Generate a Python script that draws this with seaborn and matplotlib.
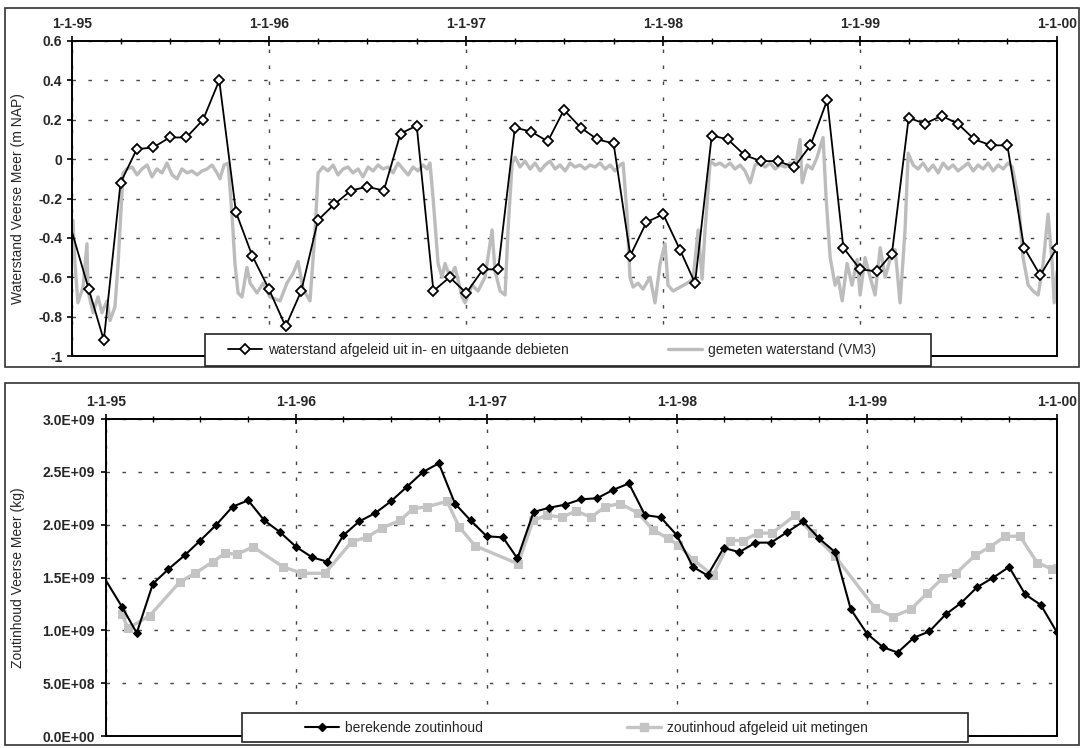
import numpy as np
import pandas as pd
import matplotlib
matplotlib.use("Agg")
import matplotlib.pyplot as plt
import matplotlib.dates as mdates
from matplotlib.patches import Rectangle
from matplotlib.lines import Line2D
import seaborn as sns

# ---- values ----
year_dates = ["1995-01-01", "1996-01-01", "1997-01-01", "1998-01-01", "1999-01-01", "2000-01-01"]
year_labels = ["1-1-95", "1-1-96", "1-1-97", "1-1-98", "1-1-99", "1-1-00"]

level_ticks = [0.6, 0.4, 0.2, 0, -0.2, -0.4, -0.6, -0.8, -1]
level_tick_labels = ["0.6", "0.4", "0.2", "0", "-0.2", "-0.4", "-0.6", "-0.8", "-1"]
salt_ticks = [3.0e9, 2.5e9, 2.0e9, 1.5e9, 1.0e9, 0.5e9, 0]
salt_tick_labels = ["3.0E+09", "2.5E+09", "2.0E+09", "1.5E+09", "1.0E+09", "5.0E+08", "0.0E+00"]

# waterstand afgeleid uit in- en uitgaande debieten (m NAP), monthly 1-1-95 .. 1-1-00
level_calc = [-0.37, -0.66, -0.92, -0.12, 0.05, 0.06, 0.11, 0.11, 0.20, 0.40,
              -0.27, -0.49, -0.66, -0.85, -0.67, -0.31, -0.23, -0.16, -0.14, -0.16,
              0.13, 0.17, -0.67, -0.60, -0.68, -0.56, -0.56, 0.16, 0.14, 0.09,
              0.25, 0.16, 0.10, 0.08, -0.49, -0.32, -0.28, -0.46, -0.63, 0.12,
              0.10, 0.02, -0.01, -0.01, -0.04, 0.07, 0.30, -0.45, -0.56, -0.57,
              -0.48, 0.21, 0.18, 0.22, 0.18, 0.10, 0.07, 0.07, -0.45, -0.59,
              -0.45]

# gemeten waterstand (VM3): time in years after 1-1-95, level in m NAP
level_meas_t = [0.005, 0.015, 0.030, 0.056, 0.076, 0.081, 0.107, 0.132, 0.152, 0.178,
                0.193, 0.218, 0.234, 0.259, 0.279, 0.305, 0.330, 0.355, 0.381, 0.406,
                0.431, 0.457, 0.482, 0.508, 0.533, 0.558, 0.584, 0.609, 0.635, 0.660,
                0.685, 0.711, 0.736, 0.751, 0.772, 0.792, 0.812, 0.827, 0.843, 0.863,
                0.888, 0.904, 0.939, 0.970, 1.005, 1.056, 1.091, 1.122, 1.147, 1.173,
                1.208, 1.234, 1.249, 1.274, 1.299, 1.325, 1.350, 1.376, 1.401, 1.426,
                1.452, 1.477, 1.503, 1.528, 1.553, 1.579, 1.604, 1.629, 1.655, 1.680,
                1.706, 1.731, 1.756, 1.782, 1.802, 1.817, 1.832, 1.858, 1.878, 1.893,
                1.919, 1.944, 1.980, 1.995, 2.030, 2.061, 2.096, 2.132, 2.147, 2.173,
                2.198, 2.213, 2.234, 2.249, 2.274, 2.299, 2.325, 2.350, 2.376, 2.401,
                2.426, 2.452, 2.477, 2.503, 2.528, 2.553, 2.579, 2.604, 2.629, 2.655,
                2.680, 2.706, 2.731, 2.756, 2.782, 2.797, 2.817, 2.832, 2.848, 2.873,
                2.898, 2.934, 2.959, 2.985, 3.010, 3.025, 3.051, 3.086, 3.122, 3.152,
                3.178, 3.198, 3.213, 3.239, 3.264, 3.289, 3.315, 3.340, 3.365, 3.391,
                3.416, 3.442, 3.467, 3.492, 3.518, 3.543, 3.569, 3.594, 3.619, 3.645,
                3.670, 3.695, 3.706, 3.731, 3.756, 3.782, 3.812, 3.827, 3.848, 3.873,
                3.888, 3.909, 3.934, 3.959, 3.985, 4.000, 4.025, 4.051, 4.076, 4.102,
                4.127, 4.152, 4.178, 4.203, 4.228, 4.244, 4.269, 4.294, 4.320, 4.345,
                4.371, 4.396, 4.421, 4.447, 4.472, 4.497, 4.523, 4.548, 4.574, 4.599,
                4.624, 4.650, 4.675, 4.701, 4.726, 4.751, 4.772, 4.802, 4.827, 4.853,
                4.878, 4.904, 4.929, 4.954, 4.975, 4.985, 5.000]
level_meas = [-0.31, -0.53, -0.73, -0.65, -0.43, -0.67, -0.78, -0.70, -0.78, -0.72,
              -0.82, -0.75, -0.53, -0.07, -0.05, -0.04, -0.08, -0.05, -0.03, -0.09,
              -0.05, -0.07, -0.02, -0.08, -0.10, -0.05, -0.07, -0.06, -0.08, -0.06,
              -0.05, -0.03, -0.07, -0.10, -0.03, -0.02, -0.28, -0.53, -0.68, -0.70,
              -0.55, -0.63, -0.68, -0.63, -0.70, -0.72, -0.63, -0.58, -0.52, -0.66,
              -0.72, -0.36, -0.07, -0.04, -0.06, -0.03, -0.08, -0.05, -0.04, -0.07,
              -0.05, -0.09, -0.04, -0.06, -0.03, -0.05, -0.04, -0.07, -0.02, -0.05,
              -0.08, -0.04, -0.06, -0.03, -0.05, -0.02, -0.19, -0.53, -0.60, -0.53,
              -0.60, -0.55, -0.70, -0.73, -0.64, -0.67, -0.60, -0.36, -0.57, -0.67,
              -0.69, -0.36, -0.02, 0.01, -0.04, -0.01, -0.05, -0.02, -0.06, -0.03,
              -0.01, -0.05, -0.03, -0.06, -0.02, -0.04, -0.03, -0.05, -0.03, -0.04,
              -0.02, -0.05, -0.03, -0.06, -0.03, -0.02, -0.28, -0.60, -0.65, -0.63,
              -0.66, -0.60, -0.73, -0.53, -0.43, -0.64, -0.67, -0.65, -0.63, -0.61,
              -0.36, -0.61, -0.36, -0.01, -0.03, -0.02, -0.04, -0.02, -0.05, -0.03,
              -0.06, -0.12, -0.03, -0.02, -0.04, -0.02, -0.05, -0.03, -0.04, -0.02,
              -0.05, 0.10, -0.12, -0.03, -0.05, 0.01, 0.11, -0.19, -0.50, -0.64,
              -0.60, -0.72, -0.53, -0.64, -0.51, -0.69, -0.50, -0.60, -0.69, -0.45,
              -0.60, -0.51, -0.46, -0.73, -0.36, 0.03, -0.03, -0.05, -0.02, -0.06,
              -0.03, -0.07, -0.02, -0.05, -0.03, -0.06, -0.04, -0.02, -0.06, -0.03,
              -0.05, -0.02, -0.06, -0.03, -0.05, -0.02, -0.04, -0.19, -0.50, -0.64,
              -0.67, -0.69, -0.53, -0.28, -0.53, -0.73, -0.57]

# berekende zoutinhoud (1e9 kg), monthly 1-1-95 .. 1-1-00
salt_calc = [1.47, 1.22, 0.975, 1.44, 1.58, 1.71, 1.85, 2.00, 2.17, 2.23,
             2.04, 1.93, 1.79, 1.69, 1.65, 1.90, 2.03, 2.11, 2.22, 2.36,
             2.50, 2.58, 2.20, 2.04, 1.89, 1.88, 1.68, 2.12, 2.16, 2.19,
             2.24, 2.25, 2.33, 2.39, 2.09, 2.07, 1.90, 1.60, 1.52, 1.78,
             1.74, 1.83, 1.83, 1.93, 2.03, 1.87, 1.74, 1.20, 0.97, 0.84,
             0.79, 0.93, 0.99, 1.15, 1.26, 1.41, 1.50, 1.60, 1.34, 1.24,
             0.98]

# zoutinhoud afgeleid uit metingen: time in years after 1-1-95, salt in 1e9 kg
salt_meas_t = [0.084, 0.116, 0.231, 0.389, 0.468, 0.563, 0.626, 0.689, 0.773, 0.931,
               1.031, 1.151, 1.293, 1.372, 1.451, 1.546, 1.614, 1.688, 1.793, 1.856,
               1.940, 2.166, 2.245, 2.319, 2.397, 2.471, 2.550, 2.624, 2.702, 2.797,
               2.876, 2.955, 3.007, 3.086, 3.191, 3.281, 3.349, 3.428, 3.502, 3.623,
               3.712, 3.833, 4.043, 4.138, 4.232, 4.316, 4.401, 4.469, 4.569, 4.648,
               4.727, 4.805, 4.895, 4.974, 5.000]
salt_meas = [1.15, 1.02, 1.14, 1.46, 1.54, 1.65, 1.73, 1.72, 1.79, 1.60,
             1.54, 1.54, 1.84, 1.88, 1.97, 2.04, 2.15, 2.17, 2.22, 1.98,
             1.80, 1.63, 2.04, 2.09, 2.07, 2.13, 2.07, 2.17, 2.20, 2.11,
             1.95, 1.87, 1.81, 1.67, 1.52, 1.85, 1.85, 1.92, 1.92, 2.09,
             1.92, 1.70, 1.21, 1.13, 1.20, 1.35, 1.50, 1.54, 1.71, 1.79,
             1.89, 1.89, 1.64, 1.58, 1.59]

# ---- build dates ----
start = pd.Timestamp("1995-01-01")
month_dates = pd.date_range("1995-01-01", "2000-01-01", freq="MS")
level_meas_dates = start + pd.to_timedelta(np.array(level_meas_t) * 365.25, unit="D")
salt_meas_dates = start + pd.to_timedelta(np.array(salt_meas_t) * 365.25, unit="D")
years = pd.to_datetime(year_dates)

sns.set_style("white")
plt.rcParams["font.family"] = ["Liberation Sans", "DejaVu Sans"]
plt.rcParams["axes.edgecolor"] = "black"

W, H = 1081, 748
fig = plt.figure(figsize=(W / 100, H / 100), dpi=100)
fig.patch.set_facecolor("white")

ax1 = fig.add_axes([72 / W, 1 - 356 / H, 985 / W, 315 / H])
ax2 = fig.add_axes([106 / W, 1 - 736 / H, 951 / W, 317 / H])

calc_color = "black"
meas_color = "#bcbcbc"
salt_meas_color = "#c4c4c4"
grid_style = dict(color="#444444", linestyle=(0, (2.5, 9)), linewidth=1)

# top panel: water level
sns.lineplot(x=level_meas_dates, y=level_meas, ax=ax1, color=meas_color,
             linewidth=2.4, zorder=2)
sns.lineplot(x=month_dates, y=level_calc, ax=ax1, color=calc_color, linewidth=1.3,
             marker="D", markersize=5.2, markerfacecolor="white",
             markeredgecolor="black", markeredgewidth=1.3,
             markevery=list(range(1, len(level_calc))), zorder=3)

# bottom panel: salt content
sns.lineplot(x=salt_meas_dates, y=np.array(salt_meas) * 1e9, ax=ax2, color=salt_meas_color,
             linewidth=2.4, marker="s", markersize=6, markerfacecolor=salt_meas_color,
             markeredgecolor=salt_meas_color, zorder=2)
sns.lineplot(x=month_dates, y=np.array(salt_calc) * 1e9, ax=ax2, color=calc_color,
             linewidth=1.5, marker="D", markersize=3.8, markerfacecolor="black",
             markeredgecolor="black", markevery=list(range(1, len(salt_calc))), zorder=3)

for ax, ticks, labels, lpad in [(ax1, level_ticks, level_tick_labels, 3.5),
                                (ax2, salt_ticks, salt_tick_labels, 4.5)]:
    ax.set_xlim(years[0], years[-1])
    ax.set_ylim(min(ticks), max(ticks))
    ax.set_xticks(years)
    ax.set_xticklabels(year_labels, fontweight="bold", fontsize=10)
    ax.xaxis.set_minor_locator(mdates.MonthLocator(bymonth=[4, 7, 10]))
    ax.xaxis.tick_top()
    ax.tick_params(axis="x", which="major", direction="inout", length=7, width=1.2,
                   pad=4, color="black")
    ax.tick_params(axis="x", which="minor", direction="inout", length=5, width=1,
                   color="black")
    ax.set_yticks(ticks)
    ax.set_yticklabels(labels, fontsize=10, fontweight="bold")
    ax.tick_params(axis="y", direction="out", length=3.5, width=1.2, pad=lpad,
                   left=True, color="black")
    ax.grid(True, which="major", **grid_style)
    ax.set_xlabel("")
    for s in ax.spines.values():
        s.set_linewidth(1.4)
        s.set_color("black")

ax1.set_ylabel("Waterstand Veerse Meer (m NAP)", fontsize=10)
ax1.yaxis.set_label_coords(-0.048, 0.5)
ax2.set_ylabel("Zoutinhoud Veerse Meer (kg)", fontsize=10)
ax2.yaxis.set_label_coords(-0.085, 0.5)

# outer frames of the two panels
for y0, y1 in [(8, 367), (383, 745)]:
    fig.add_artist(Rectangle((5 / W, 1 - y1 / H), 1074 / W, (y1 - y0) / H,
                             transform=fig.transFigure, fill=False,
                             edgecolor="#333333", linewidth=1.2, zorder=4))

# legend boxes
for x0, y0, y1 in [(205, 334, 366), (242, 713, 742)]:
    fig.add_artist(Rectangle((x0 / W, 1 - y1 / H), 726 / W, (y1 - y0) / H,
                             transform=fig.transFigure, facecolor="white",
                             edgecolor="#222222", linewidth=1.2, zorder=5))

h_level_calc = Line2D([], [], color="black", lw=1.3, marker="D", ms=5.2, mfc="white",
                      mec="black", mew=1.3)
h_level_meas = Line2D([], [], color=meas_color, lw=2.4)
h_salt_calc = Line2D([], [], color="black", lw=1.5, marker="D", ms=3.8, mfc="black",
                     mec="black")
h_salt_meas = Line2D([], [], color=salt_meas_color, lw=2.4, marker="s", ms=6,
                     mfc=salt_meas_color, mec=salt_meas_color)

entries = [
    (h_level_calc, "waterstand afgeleid uit in- en uitgaande debieten", 228, 350),
    (h_level_meas, "gemeten waterstand (VM3)", 668, 350),
    (h_salt_calc, "berekende zoutinhoud", 305, 728),
    (h_salt_meas, "zoutinhoud afgeleid uit metingen", 627, 728),
]
for handle, label, x, y in entries:
    leg = fig.legend(handles=[handle], labels=[label], loc="center left",
                     bbox_to_anchor=(x / W, 1 - y / H), frameon=False, fontsize=10,
                     handlelength=2.45, handletextpad=0.4, borderpad=0,
                     borderaxespad=0)
    leg.set_zorder(6)

fig.savefig("out.png", dpi=100)
